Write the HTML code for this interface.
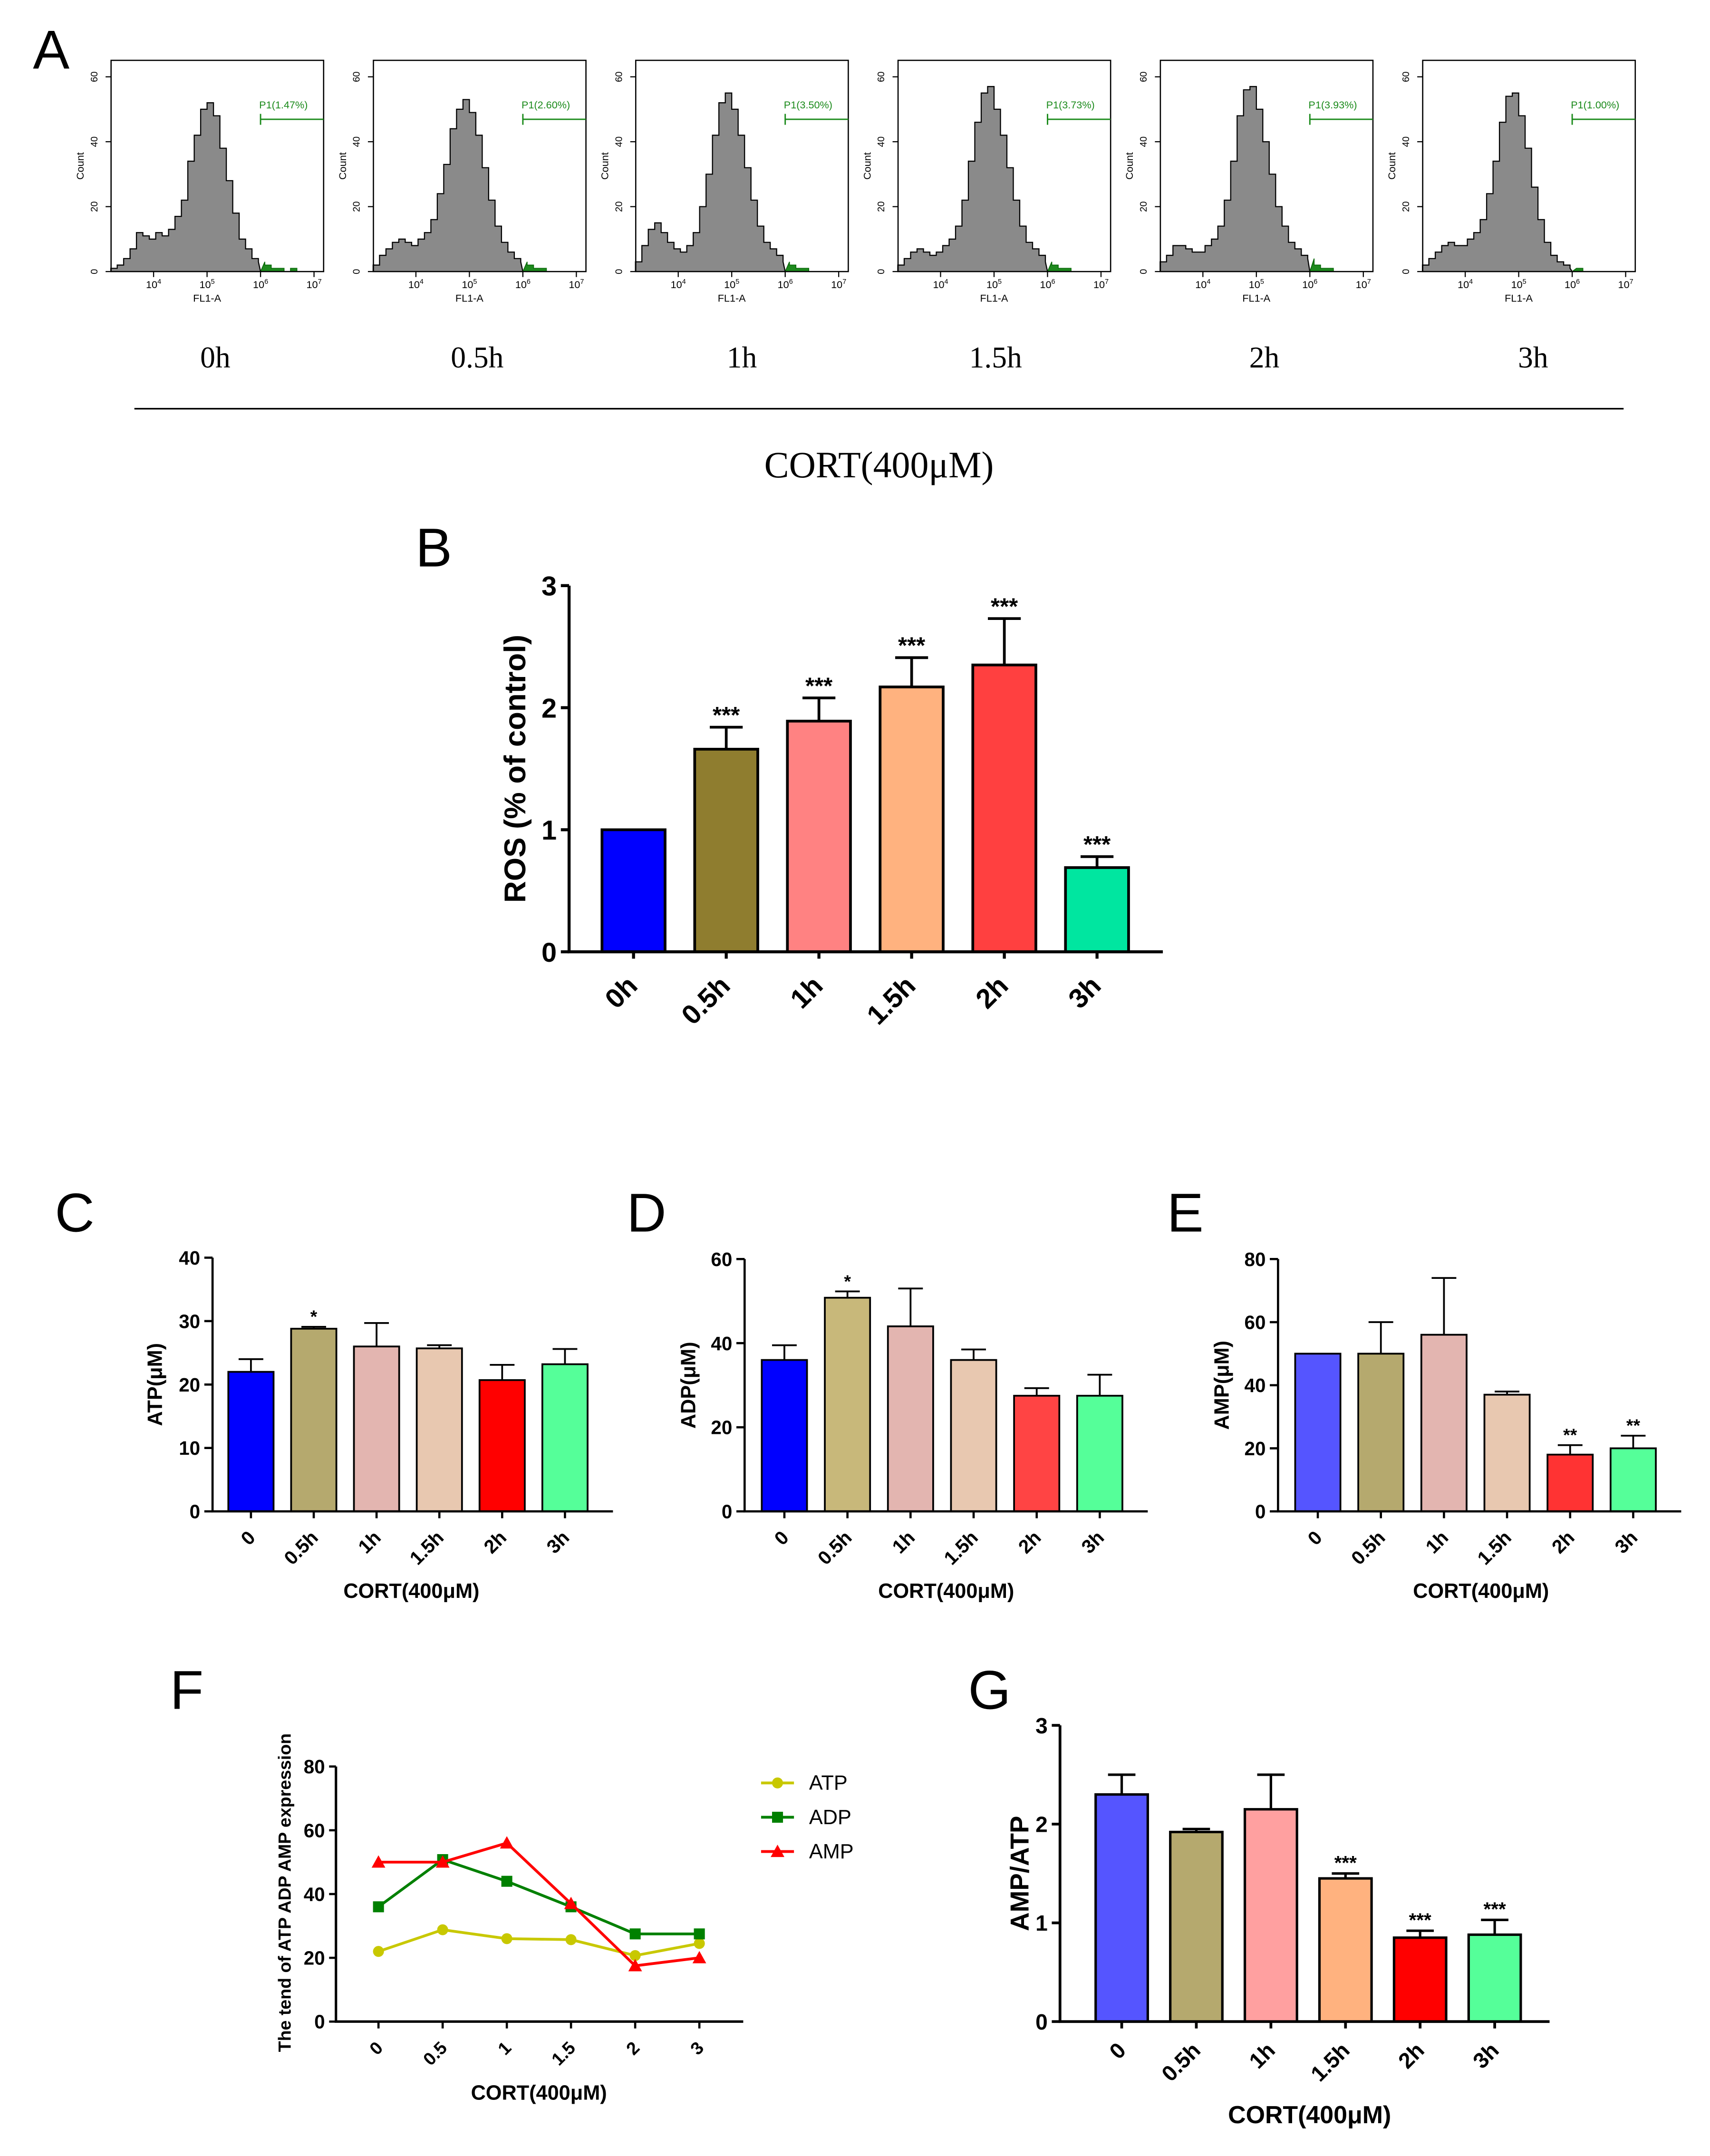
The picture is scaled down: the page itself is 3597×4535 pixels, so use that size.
<!DOCTYPE html>
<html><head><meta charset="utf-8"><style>html,body{margin:0;padding:0;background:#fff}svg{display:block}</style></head>
<body>
<svg id="fig" xmlns="http://www.w3.org/2000/svg" width="3597" height="4535" viewBox="0 0 1247 1572" preserveAspectRatio="none" font-family="Liberation Sans, Arial, sans-serif">
<rect width="1247" height="1572" fill="#fff"/>
<text x="24" y="50" font-size="40">A</text>
<g id="panelA"></g>
<g font-family="Liberation Serif, serif" font-size="22" text-anchor="middle">
<text x="157" y="268">0h</text><text x="348" y="268">0.5h</text><text x="541" y="268">1h</text><text x="726" y="268">1.5h</text><text x="922" y="268">2h</text><text x="1118" y="268">3h</text>
</g>
<line x1="98" y1="298" x2="1184" y2="298" stroke="#000" stroke-width="1.2"/>
<text x="641" y="348" font-family="Liberation Serif, serif" font-size="27" text-anchor="middle">CORT(400μM)</text>
<text x="303" y="413" font-size="40">B</text>
<text x="40" y="898" font-size="40">C</text>
<text x="457" y="898" font-size="40">D</text>
<text x="851" y="898" font-size="40">E</text>
<text x="124" y="1246" font-size="40">F</text>
<text x="706" y="1246" font-size="40">G</text>
<g id="charts"></g>
</svg>
<script>
// ---------- Data ----------
const histLabels = ["P1(1.47%)","P1(2.60%)","P1(3.50%)","P1(3.73%)","P1(3.93%)","P1(1.00%)"];
const histBinStart = 3.2, histBinWidth = 0.12;
const hist0 = [1,2,4,7,12,11,10,12,11,13,17,22,34,42,50,52,48,38,28,18,10,7,4,3,2,1,1,0,1,0];
const hist05 = [2,5,7,9,10,9,8,10,12,16,24,33,44,50,53,49,42,32,22,14,9,6,4,3,2,1,1,0,0,0];
const hist1 = [3,8,13,15,12,9,7,6,8,12,20,30,42,52,55,50,42,32,22,14,9,7,5,3,2,1,1,0,0,0];
const hist15 = [2,4,6,7,6,5,6,8,10,14,22,34,46,55,57,50,42,32,22,14,9,7,5,3,2,1,1,0,0,0];
const hist2 = [3,5,8,8,7,6,6,8,10,14,22,34,48,56,57,50,40,30,20,14,9,7,5,4,2,1,1,0,0,0];
const hist3 = [2,4,6,8,9,8,8,10,12,16,24,34,46,54,55,48,38,26,16,9,5,3,2,1,1,0,0,0,0,0];

const timeCats = ["0h","0.5h","1h","1.5h","2h","3h"];
const rosValues = [1, 1.66, 1.89, 2.17, 2.35, 0.69];
const rosErrors = [0, 0.18, 0.19, 0.24, 0.38, 0.09];
const rosStars = ["", "***", "***", "***", "***", "***"];
const rosTicks = [0,1,2,3];

const cortCats = ["0","0.5h","1h","1.5h","2h","3h"];
const atpValues = [22, 28.8, 26, 25.7, 20.7, 23.2];
const atpErrors = [2, 0.3, 3.7, 0.5, 2.4, 2.4];
const atpStars = ["", "*", "", "", "", ""];
const atpTicks = [0,10,20,30,40];
const adpValues = [36, 50.8, 44, 36, 27.5, 27.5];
const adpErrors = [3.5, 1.5, 9, 2.5, 1.8, 5];
const adpStars = ["", "*", "", "", "", ""];
const adpTicks = [0,20,40,60];
const ampValues = [50, 50, 56, 37, 18, 20];
const ampErrors = [0, 10, 18, 1, 3, 4];
const ampStars = ["", "", "", "", "**", "**"];
const ampTicks = [0,20,40,60,80];

const trendCats = ["0","0.5","1","1.5","2","3"];
const trendATP = [22, 28.8, 26, 25.7, 20.7, 24.5];
const trendADP = [36, 50.8, 44, 36, 27.5, 27.5];
const trendAMP = [50, 50, 56, 37, 17.5, 20];
const trendTicks = [0,20,40,60,80];

const ratioValues = [2.3, 1.92, 2.15, 1.45, 0.85, 0.88];
const ratioErrors = [0.2, 0.03, 0.35, 0.05, 0.07, 0.15];
const ratioStars = ["", "", "", "***", "***", "***"];
const ratioTicks = [0,1,2,3];

// ---------- helpers ----------
const NS = "http://www.w3.org/2000/svg";
function mk(tag, attrs, parent) {
  const e = document.createElementNS(NS, tag);
  for (const k in attrs) e.setAttribute(k, attrs[k]);
  if (parent) parent.appendChild(e);
  return e;
}

// ---------- Panel A ----------
const panelA = document.getElementById("panelA");
const histData = [hist0, hist05, hist1, hist15, hist2, hist3];
histData.forEach((h, i) => {
  const L = 81 + 191.3 * i, R = L + 155, T = 44, B = 198;
  const g = mk("g", {}, panelA);
  
  
  const xs = v => L + 31 + (v - 4) * 39;
  const ys = c => B - c * (B - 56) / 60;
  let grey = "", green = "";
  let pts = [[xs(histBinStart), B]];
  h.forEach((c, k) => {
    const a = histBinStart + k * histBinWidth, b = a + histBinWidth;
    pts.push([xs(a), ys(c)], [xs(b), ys(c)]);
  });
  pts.push([xs(histBinStart + h.length * histBinWidth), B]);
  const gp = pts.filter(p => p[0] <= xs(6) + 0.01);
  gp.push([xs(6), B]);
  const path = mk("polygon", {points: gp.map(p => p.join(",")).join(" "), fill: "#8a8a8a", stroke: "#000", "stroke-width": "0.8"}, g);
  
  
  const gr = [[xs(6), B]].concat(pts.filter(p => p[0] >= xs(6) - 0.01));
  const gpoly = mk("polygon", {points: gr.map(p => p.join(",")).join(" "), fill: "#1e8a1e", stroke: "#0a6a0a", "stroke-width": "0.6"}, g);
  
  
  const box = mk("rect", {x: L, y: T, width: R - L, height: B - T, fill: "none", stroke: "#000", "stroke-width": "0.9"}, g);
  
  
  [0,20,40,60].forEach(t => {
    mk("line", {x1: L - 4, x2: L, y1: ys(t), y2: ys(t), stroke: "#000", "stroke-width": "0.8"}, g);
    const tx = mk("text", {x: L - 10, y: ys(t), "font-size": "7", "text-anchor": "middle", transform: `rotate(-90 ${L - 10} ${ys(t)})`}, g);
    tx.textContent = t;
  });
  const yl = mk("text", {x: L - 20, y: (T + B) / 2, "font-size": "7.5", "text-anchor": "middle", transform: `rotate(-90 ${L - 20} ${(T + B) / 2})`}, g);
  
  yl.textContent = "Count";
  [4,5,6,7].forEach(d => {
    mk("line", {x1: xs(d), x2: xs(d), y1: B, y2: B + 4, stroke: "#000", "stroke-width": "0.8"}, g);
    const tx = mk("text", {x: xs(d), y: B + 12, "font-size": "7.5", "text-anchor": "middle"}, g);
    tx.innerHTML = '10<tspan dy="-3" font-size="5">' + d + '</tspan>';
  });
  const xl = mk("text", {x: xs(5), y: B + 22, "font-size": "7.5", "text-anchor": "middle"}, g);
  
  xl.textContent = "FL1-A";
  const gate = mk("path", {d: `M${xs(6)} 83 V91 M${xs(6)} 87 H${R}`, stroke: "#1a8a1a", "stroke-width": "1", fill: "none"}, g);
  
  
  const gl = mk("text", {x: xs(6) - 1, y: 79, "font-size": "7.5", fill: "#1a8a1a"}, g);
  
  gl.textContent = histLabels[i];
});

// ---------- bar chart ----------
const charts = document.getElementById("charts");
function barChart(o) {
  const g = mk("g", {}, charts);
  
  
  const max = o.ticks[o.ticks.length - 1];
  const ys = v => o.y0 - v / max * (o.y0 - o.yTop);
  const xs = i => o.x0 + o.firstGap + i * o.step;
  o.values.forEach((v, i) => {
    const r = mk("rect", {x: xs(i) - o.bw / 2, y: ys(v), width: o.bw, height: o.y0 - ys(v), fill: o.colors[i], stroke: "#000", "stroke-width": o.sw}, g);
    
    
    if (o.errors[i] > 0) {
      const e = mk("path", {d: `M${xs(i)} ${ys(v)} V${ys(v + o.errors[i])} M${xs(i) - o.cap} ${ys(v + o.errors[i])} H${xs(i) + o.cap}`, stroke: "#000", "stroke-width": o.sw, fill: "none"}, g);
      
      
    }
    if (o.stars[i]) {
      const s = mk("text", {x: xs(i), y: ys(v + o.errors[i]) - 3, "font-size": o.starSize, "text-anchor": "middle", "font-weight": "bold"}, g);
      
      
      s.textContent = o.stars[i];
    }
    const lx = xs(i) + 4, ly = o.y0 + o.tickFs + 6;
    const t = mk("text", {x: lx, y: ly, "font-size": o.tickFs, "font-weight": "bold", "text-anchor": "end", transform: `rotate(-45 ${lx} ${ly})`}, g);
    
    
    t.textContent = o.cats[i];
    mk("line", {x1: xs(i), x2: xs(i), y1: o.y0, y2: o.y0 + 5, stroke: "#000", "stroke-width": o.aw}, g);
  });
  const ax = mk("path", {d: `M${o.x0} ${o.yTop} V${o.y0} H${o.xEnd}`, stroke: "#000", "stroke-width": o.aw, fill: "none"}, g);
  
  
  o.ticks.forEach(t => {
    mk("line", {x1: o.x0 - 6, x2: o.x0, y1: ys(t), y2: ys(t), stroke: "#000", "stroke-width": o.aw}, g);
    const tx = mk("text", {x: o.x0 - 9, y: ys(t) + o.tickFs * 0.36, "font-size": o.tickFs, "font-weight": "bold", "text-anchor": "end"}, g);
    
    
    tx.textContent = t;
  });
  const yc = (o.y0 + o.yTop) / 2;
  const yl = mk("text", {x: o.ylx, y: yc, "font-size": o.labFs, "font-weight": "bold", "text-anchor": "middle", transform: `rotate(-90 ${o.ylx} ${yc})`}, g);
  
  
  yl.textContent = o.ylabel;
  if (o.xlabel) {
    const xl = mk("text", {x: o.xlx, y: o.xly, "font-size": o.xlabFs, "font-weight": "bold", "text-anchor": "middle"}, g);
    
    
    xl.textContent = o.xlabel;
  }
}

barChart({name: "ros-chart", cats: timeCats, values: rosValues, errors: rosErrors, stars: rosStars, ticks: rosTicks,
  colors: ["#0000ff","#8f7d2f","#ff8282","#ffb27f","#ff4040","#00e6a0"],
  x0: 415, y0: 694, yTop: 427, xEnd: 848, firstGap: 47, step: 67.6, bw: 46, cap: 12, sw: 2, aw: 2.2,
  starSize: 17, tickFs: 20, labFs: 22, ylx: 383, ylabel: "ROS (% of control)"});

barChart({name: "atp-chart", cats: cortCats, values: atpValues, errors: atpErrors, stars: atpStars, ticks: atpTicks,
  colors: ["#0000ff","#b5a96e","#e3b5b0","#e8c8b0","#ff0000","#55ff99"],
  x0: 155, y0: 1102, yTop: 917, xEnd: 447, firstGap: 28, step: 45.8, bw: 33, cap: 9, sw: 1.3, aw: 1.6,
  starSize: 13, tickFs: 14, labFs: 15, ylx: 118, ylabel: "ATP(μM)", xlabel: "CORT(400μM)", xlx: 300, xly: 1165, xlabFs: 15});

barChart({name: "adp-chart", cats: cortCats, values: adpValues, errors: adpErrors, stars: adpStars, ticks: adpTicks,
  colors: ["#0000ff","#c8b87a","#e3b5b0","#e8c8b0","#ff4444","#55ff99"],
  x0: 543, y0: 1102, yTop: 918, xEnd: 837, firstGap: 29, step: 46, bw: 33, cap: 9, sw: 1.3, aw: 1.6,
  starSize: 13, tickFs: 14, labFs: 15, ylx: 507, ylabel: "ADP(μM)", xlabel: "CORT(400μM)", xlx: 690, xly: 1165, xlabFs: 15});

barChart({name: "amp-chart", cats: cortCats, values: ampValues, errors: ampErrors, stars: ampStars, ticks: ampTicks,
  colors: ["#5555ff","#b5a96e","#e3b5b0","#e8c8b0","#ff3333","#55ff99"],
  x0: 932, y0: 1102, yTop: 918, xEnd: 1226, firstGap: 29, step: 46, bw: 33, cap: 9, sw: 1.3, aw: 1.6,
  starSize: 13, tickFs: 14, labFs: 15, ylx: 896, ylabel: "AMP(μM)", xlabel: "CORT(400μM)", xlx: 1080, xly: 1165, xlabFs: 15});

barChart({name: "amp-atp-ratio-chart", cats: cortCats, values: ratioValues, errors: ratioErrors, stars: ratioStars, ticks: ratioTicks,
  colors: ["#5555ff","#b5a96e","#ffa0a0","#ffb27f","#ff0000","#55ff99"],
  x0: 773, y0: 1474, yTop: 1258, xEnd: 1130, firstGap: 45, step: 54.4, bw: 38, cap: 10, sw: 1.8, aw: 2,
  starSize: 14, tickFs: 16, labFs: 19, ylx: 750, ylabel: "AMP/ATP", xlabel: "CORT(400μM)", xlx: 955, xly: 1548, xlabFs: 18});

// ---------- Panel F line chart ----------
(function () {
  const g = mk("g", {}, charts);
  
  
  const x0 = 245, y0 = 1474, yTop = 1288, xEnd = 542;
  const ys = v => y0 - v / 80 * (y0 - yTop);
  const xs = i => 276 + i * 46.8;
  const ax = mk("path", {d: `M${x0} ${yTop} V${y0} H${xEnd}`, stroke: "#000", "stroke-width": 1.8, fill: "none"}, g);
  
  
  trendTicks.forEach(t => {
    mk("line", {x1: x0 - 5, x2: x0, y1: ys(t), y2: ys(t), stroke: "#000", "stroke-width": 1.6}, g);
    const tx = mk("text", {x: x0 - 8, y: ys(t) + 5, "font-size": 14, "font-weight": "bold", "text-anchor": "end"}, g);
    
    
    tx.textContent = t;
  });
  trendCats.forEach((c, i) => {
    mk("line", {x1: xs(i), x2: xs(i), y1: y0, y2: y0 + 5, stroke: "#000", "stroke-width": 1.6}, g);
    const lx = xs(i) + 4, ly = y0 + 20;
    const t = mk("text", {x: lx, y: ly, "font-size": 13, "font-weight": "bold", "text-anchor": "end", transform: `rotate(-45 ${lx} ${ly})`}, g);
    
    
    t.textContent = c;
  });
  const series = [
    {name: "ATP", vals: trendATP, col: "#c8c800", m: "circle"},
    {name: "ADP", vals: trendADP, col: "#008000", m: "square"},
    {name: "AMP", vals: trendAMP, col: "#ff0000", m: "triangle"}];
  function marker(m, x, y, col, parent) {
    let e;
    if (m === "circle") e = mk("circle", {cx: x, cy: y, r: 4, fill: col}, parent);
    else if (m === "square") e = mk("rect", {x: x - 4, y: y - 4, width: 8, height: 8, fill: col}, parent);
    else e = mk("polygon", {points: `${x},${y - 5} ${x + 5},${y + 4} ${x - 5},${y + 4}`, fill: col}, parent);
    return e;
  }
  series.forEach((s, k) => {
    const sg = mk("g", {}, g);
    
    
    const line = mk("polyline", {points: s.vals.map((v, i) => xs(i) + "," + ys(v)).join(" "), fill: "none", stroke: s.col, "stroke-width": 2}, sg);
    
    
    s.vals.forEach((v, i) => {
      const p = marker(s.m, xs(i), ys(v), s.col, sg);
      
      
    });
    const ly = 1300 + k * 25;
    const lg = mk("g", {}, g);
    
    
    mk("line", {x1: 555, x2: 579, y1: ly, y2: ly, stroke: s.col, "stroke-width": 2}, lg);
    marker(s.m, 567, ly, s.col, lg);
    const t = mk("text", {x: 590, y: ly + 5, "font-size": 15}, lg);
    t.textContent = s.name;
  });
  const yl = mk("text", {x: 212, y: 1380, "font-size": 13, "font-weight": "bold", "text-anchor": "middle", transform: "rotate(-90 212 1380)"}, g);
  
  
  yl.textContent = "The tend of ATP ADP AMP expression";
  const xl = mk("text", {x: 393, y: 1531, "font-size": 15, "font-weight": "bold", "text-anchor": "middle"}, g);
  
  
  xl.textContent = "CORT(400μM)";
})();
</script>
</body></html>
